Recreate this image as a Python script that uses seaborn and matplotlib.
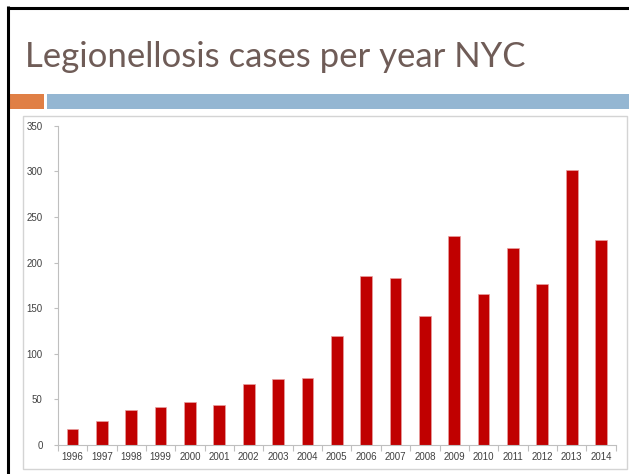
"""Legionellosis cases per year in NYC, slide-style bar chart."""

import matplotlib

matplotlib.use("Agg")

import matplotlib.pyplot as plt
import pandas as pd
import seaborn as sns
from matplotlib.lines import Line2D
from matplotlib.patches import Rectangle
from matplotlib.ticker import FixedLocator

years = [str(y) for y in range(1996, 2015)]
cases = [18, 26, 38, 42, 47, 44, 67, 72, 73, 119, 185, 183, 141, 229, 165, 216, 176, 301, 225]
y_ticks = [0, 50, 100, 150, 200, 250, 300, 350]
title_text = "Legionellosis cases per year NYC"

W, H = 629, 474


def fx(px):
    return px / W


def fy(py):
    return 1 - py / H


sns.set_style("white")
plt.rcParams["font.family"] = ["Liberation Sans", "DejaVu Sans"]

df = pd.DataFrame({"year": years, "cases": cases})

fig = plt.figure(figsize=(W / 100, H / 100), dpi=100)
fig.patch.set_facecolor("white")

# slide decoration
fig.add_artist(Line2D([fx(8), fx(8)], [fy(6), 0], color="black", lw=2.2,
                      solid_capstyle="butt", transform=fig.transFigure))
fig.add_artist(Line2D([fx(7), 1], [fy(7.5), fy(7.5)], color="black", lw=2.2,
                      solid_capstyle="butt", transform=fig.transFigure))
fig.add_artist(Rectangle((fx(10), fy(109)), fx(44) - fx(10), (109 - 94) / H,
                         transform=fig.transFigure, color="#e07f45", lw=0))
fig.add_artist(Rectangle((fx(47), fy(109)), 1 - fx(47), (109 - 94) / H,
                         transform=fig.transFigure, color="#94b6d2", lw=0))
fig.add_artist(Rectangle((fx(23), fy(469)), fx(627) - fx(23), (469 - 116) / H,
                         transform=fig.transFigure, facecolor="none", edgecolor="#d4d4d4", lw=1.0))
fig.text(fx(25), fy(67), title_text, fontsize=25, color="#6f5c57",
         family=["Lato", "DejaVu Sans"], va="baseline", ha="left")

ax = fig.add_axes([fx(57.8), fy(445), fx(615.7) - fx(57.8), (445 - 125.7) / H])
sns.barplot(data=df, x="year", y="cases", color="#c00000", width=0.4,
            saturation=1, edgecolor="#e9a0a0", linewidth=0.5, ax=ax)
ax.set_xlim(-0.5, len(years) - 0.5)
ax.set_ylim(0, 350)
ax.set_yticks(y_ticks)
ax.set_xlabel("")
ax.set_ylabel("")

for side in ["top", "right"]:
    ax.spines[side].set_visible(False)
for side in ["left", "bottom"]:
    ax.spines[side].set_color("#bfbfbf")
    ax.spines[side].set_linewidth(0.8)

ax.xaxis.set_minor_locator(FixedLocator([i - 0.5 for i in range(len(years) + 1)]))
ax.tick_params(axis="x", which="major", length=0, pad=5, labelsize=7, labelcolor="#404040")
ax.tick_params(axis="x", which="minor", length=4, width=0.8, color="#bfbfbf", direction="out")
ax.tick_params(axis="y", which="major", length=3, width=0.8, color="#bfbfbf", direction="out",
               pad=8, labelsize=7, labelcolor="#404040")
ax.tick_params(left=True, bottom=True, which="both")

fig.savefig("out.png", dpi=100, facecolor="white")
